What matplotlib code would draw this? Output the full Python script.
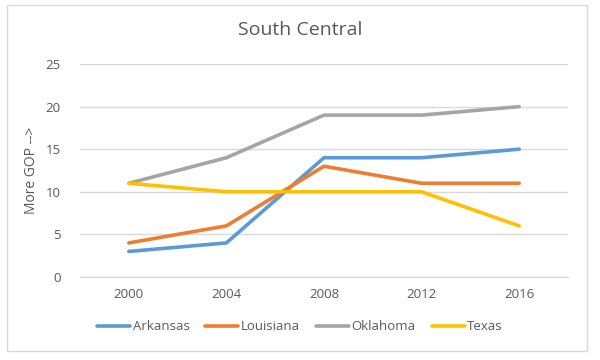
import matplotlib
matplotlib.use("Agg")
import matplotlib.pyplot as plt
from matplotlib.patches import Rectangle

years = ["2000", "2004", "2008", "2012", "2016"]
arkansas = [3, 4, 14, 14, 15]
louisiana = [4, 6, 13, 11, 11]
oklahoma = [11, 14, 19, 19, 20]
texas = [11, 10, 10, 10, 6]
series_names = ["Arkansas", "Louisiana", "Oklahoma", "Texas"]
colors = ["#5B9BD5", "#ED7D31", "#A5A5A5", "#FFC000"]
yticks = [0, 5, 10, 15, 20, 25]

plt.rcParams['font.family'] = ['Open Sans', 'DejaVu Sans']
fig = plt.figure(figsize=(6, 3.6), dpi=100)
fig.patches.append(Rectangle((7/600, 1-351/360), 580/600, 346/360, transform=fig.transFigure,
                             fill=False, edgecolor="#D9D9D9", linewidth=1.0))
ax = fig.add_axes([80/600, 1-277/360, 488/600, 213/360])

x = list(range(len(years)))
for name, vals, c in zip(series_names, [arkansas, louisiana, oklahoma, texas], colors):
    ax.plot(x, vals, color=c, linewidth=2.6, label=name, solid_capstyle="round")

ax.set_xlim(-0.5, len(years) - 0.5)
ax.set_ylim(0, 25)
ax.set_yticks(yticks)
ax.set_xticks(x)
ax.set_xticklabels(years)
ax.grid(axis="y", color="#D9D9D9", linewidth=1.0)
ax.set_axisbelow(True)
for s in ["top", "right", "left"]:
    ax.spines[s].set_visible(False)
ax.spines["bottom"].set_color("#D9D9D9")
ax.tick_params(axis="both", length=0, colors="#595959", labelsize=9.5)
ax.tick_params(axis="y", pad=14)
ax.tick_params(axis="x", pad=8)
ax.set_ylabel("More GOP -->", color="#595959", fontsize=10)
ax.yaxis.set_label_coords(-41/488, 0.5)
fig.text(0.5, 1-30/360, "South Central", ha="center", va="center", fontsize=14, color="#595959")

leg = fig.legend(loc="center", bbox_to_anchor=(0.5, 1-327/360), ncol=4, frameon=False,
                 fontsize=9.5, handlelength=2.5, columnspacing=1.2, handletextpad=0.2)
for t in leg.get_texts():
    t.set_color("#595959")

fig.savefig("out.png", dpi=100)
